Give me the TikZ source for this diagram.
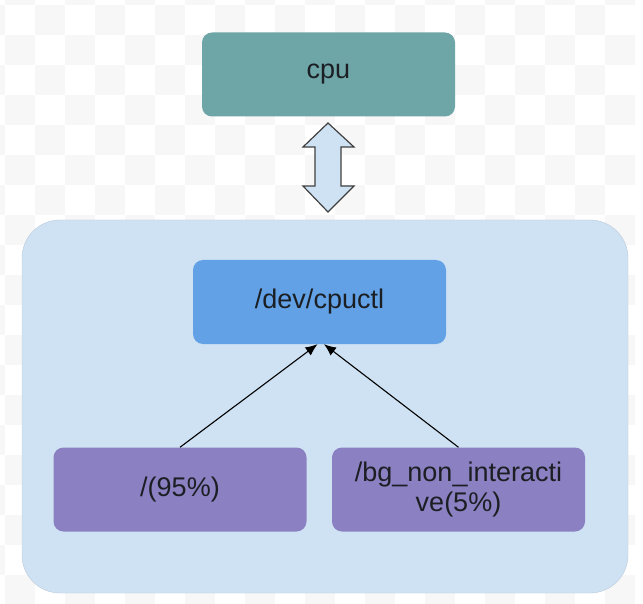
\documentclass[tikz,border=0pt]{standalone}
\usepackage{fontspec}
\setmainfont{Liberation Sans}
\usepackage{tikz}
\usetikzlibrary{arrows,arrows.meta,shapes}
\definecolor{teal}{HTML}{6EA6A8}
\definecolor{blue}{HTML}{62A1E5}
\definecolor{purple}{HTML}{8B80C1}
\definecolor{pale}{HTML}{CFE2F3}
\definecolor{ink}{HTML}{1B1F24}
\definecolor{checker}{HTML}{F7F7F7}

\begin{document}
\begin{tikzpicture}[x=1pt,y=-1pt,
  box/.style={rounded corners=10pt, minimum width=253pt, minimum height=84pt,
    text=ink, font=\fontsize{27}{30}\selectfont, align=center, inner sep=0pt},
  link/.style={draw=black, line width=1.1pt, -{Latex[length=12pt,width=10pt]}}]
  % background
  \useasboundingbox (0,0) rectangle (643,604);
  \begin{scope}
    \clip (0,0) rectangle (643,604);
    \fill[white] (0,0) rectangle (643,604);
    \foreach \i in {0,...,21}
      \foreach \j in {0,...,20}
        {\pgfmathparse{int(mod(\i+\j,2))}
         \ifnum\pgfmathresult=1
           \fill[checker] (5+30*\i-30,5+30*\j-30) rectangle +(30,30);
         \fi}
  \end{scope}

  % container
  \draw[fill=pale, draw=pale!90!black, rounded corners=38pt] (22,220) rectangle (628,593);

  \node[box, fill=teal] (cpu) at (328.5,74.5) {cpu};
  \node[box, fill=blue] (dev) at (319.5,302) {/dev/cpuctl};
  \node[box, fill=purple] (root) at (180,489.5) {/(95\%)};
  \node[box, fill=purple] (bg) at (458.5,489.5) {/bg\_non\_interacti\\ve(5\%)};

  % double arrow
  \draw[fill=pale, draw=black!75, line width=1.2pt, line join=miter]
    (328,123) -- (354,147) -- (341,147) -- (341,186) -- (354,186) -- (328,212)
    -- (303,186) -- (315,186) -- (315,147) -- (303,147) -- cycle;

  \draw[link] (root.north) -- ([xshift=-2pt]dev.south);
  \draw[link] (bg.north) -- ([xshift=4.5pt]dev.south);

\end{tikzpicture}
\end{document}
